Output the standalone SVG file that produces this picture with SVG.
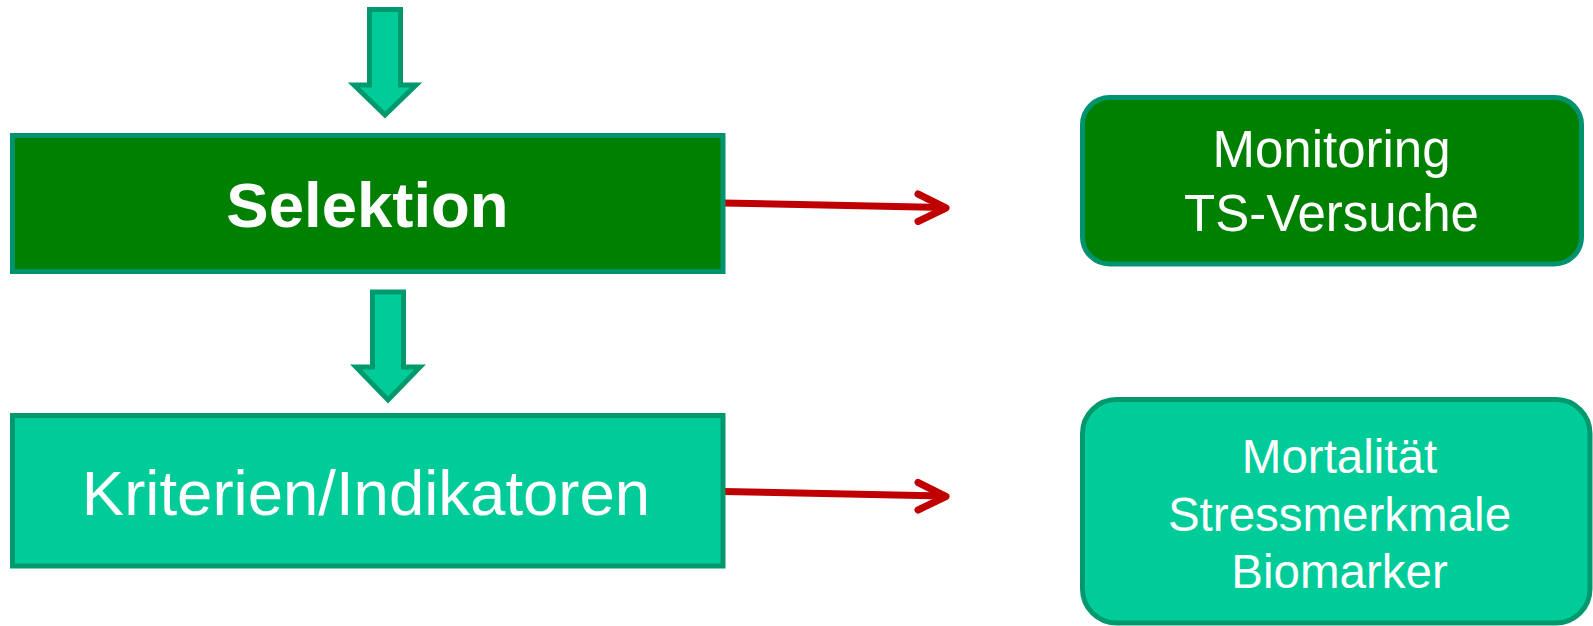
<svg xmlns="http://www.w3.org/2000/svg" width="1593" height="626" viewBox="0 0 1593 626">
  <style>
    .lbl { font-family: "Liberation Sans", Arial, sans-serif; fill: #ffffff; text-anchor: middle; }
    .dark { fill: #008000; stroke: #00936E; stroke-width: 5; }
    .teal { fill: #00CC99; stroke: #00996E; stroke-width: 5; }
    .flow { fill: #00CC99; stroke: #00996E; stroke-width: 5; stroke-linejoin: miter; stroke-miterlimit: 10; }
    .link { fill: none; stroke: #C00000; stroke-width: 7; stroke-linecap: round; stroke-linejoin: round; }
  </style>

  <!-- vertical flow arrows -->
  <g id="connectors">
    <path class="flow" d="M369.5,9.5 H400.5 V85 H416 L385,115 L354,85 H369.5 Z"/>
    <path class="flow" d="M372.5,292 H403.5 V367 H420 L388,400 L356,367 H372.5 Z"/>
    <!-- red links to the right-hand boxes -->
    <path class="link" d="M723,203 L944,207.5"/>
    <path class="link" d="M918,194 L946,208 L918,221.5"/>
    <path class="link" d="M723,491.5 L944,496"/>
    <path class="link" d="M918,482.5 L946,496.5 L918,510"/>
  </g>

  <g id="selektion">
    <rect class="dark" x="12.5" y="135.5" width="710.5" height="136"/>
    <text class="lbl" x="367.5" y="226.5" font-size="63.5" font-weight="bold">Selektion</text>
  </g>

  <g id="kriterien">
    <rect class="teal" x="12.5" y="415.5" width="710.5" height="150.5"/>
    <text class="lbl" x="366" y="515" font-size="63.5">Kriterien/Indikatoren</text>
  </g>

  <g id="monitoring">
    <rect class="dark" x="1082.5" y="97.5" width="499" height="166.5" rx="27" ry="27"/>
    <text class="lbl" x="1331.5" y="166.5" font-size="51">Monitoring</text>
    <text class="lbl" x="1331.5" y="230.5" font-size="51">TS-Versuche</text>
  </g>

  <g id="merkmale">
    <rect class="teal" x="1082.5" y="399.5" width="507.5" height="223.5" rx="34" ry="34"/>
    <text class="lbl" x="1339.5" y="473" font-size="47.5">Mortalität</text>
    <text class="lbl" x="1339.5" y="530.5" font-size="47.5">Stressmerkmale</text>
    <text class="lbl" x="1339.5" y="588" font-size="47.5">Biomarker</text>
  </g>
</svg>
